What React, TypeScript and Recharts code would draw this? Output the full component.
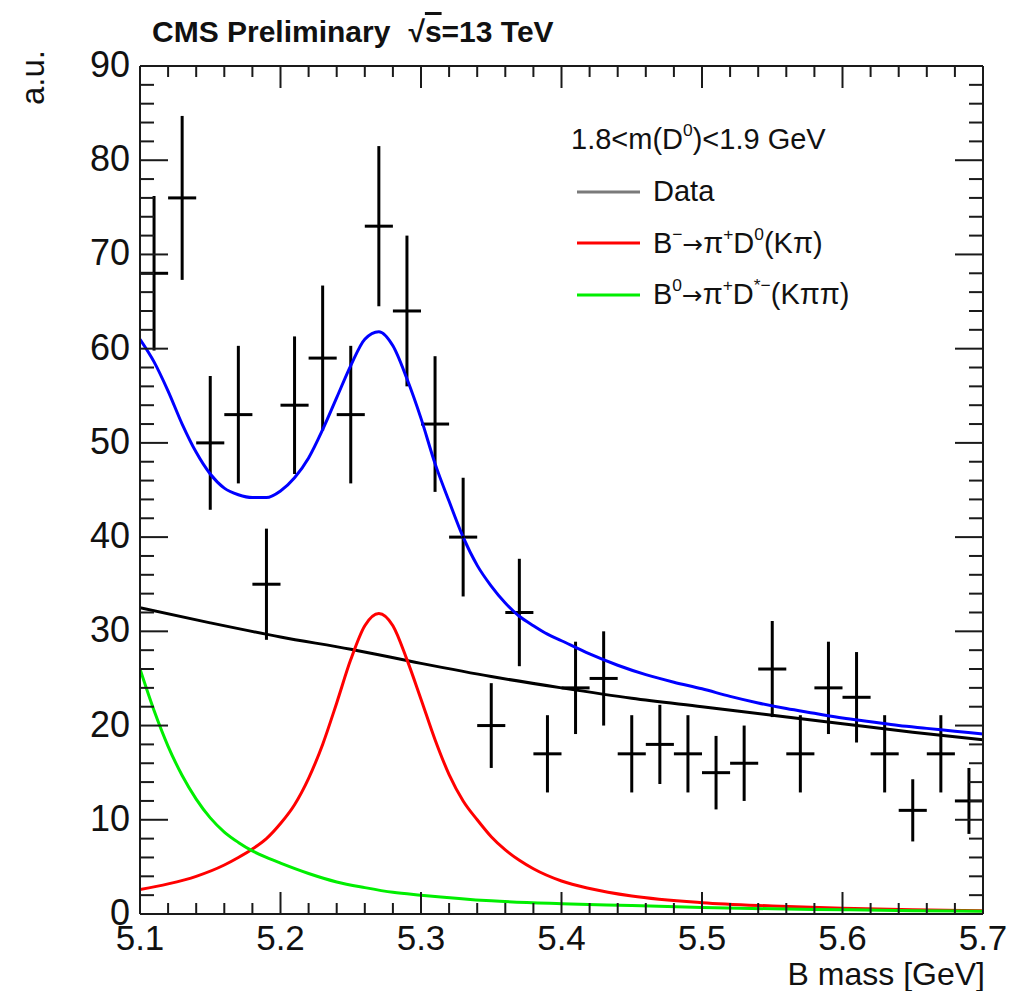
import React from 'react';
import { ComposedChart, Line, Scatter, ErrorBar, XAxis, YAxis, Legend } from 'recharts';

const W = 1012;
const H = 991;
const FONT = '"Liberation Sans", Arial, Helvetica, sans-serif';
const INK = '#1a1a1a';

// axis ticks
const X_MAJOR = [5.1, 5.2, 5.3, 5.4, 5.5, 5.6, 5.7];
const X_LABELS = ['5.1', '5.2', '5.3', '5.4', '5.5', '5.6', '5.7'];
const Y_MAJOR = [0, 10, 20, 30, 40, 50, 60, 70, 80, 90];
const Y_LABELS = ['0', '10', '20', '30', '40', '50', '60', '70', '80', '90'];

const xTicks: number[] = [];
for (let i = 0; i <= 30; i++) xTicks.push(Math.round((5.1 + i * 0.02) * 100) / 100);
const yTicks: number[] = [];
for (let v = 0; v <= 90; v += 2) yTicks.push(v);

// data histogram (bin centres, counts, vertical errors)
const binCenters = [
  5.11, 5.13, 5.15, 5.17, 5.19, 5.21, 5.23, 5.25, 5.27, 5.29,
  5.31, 5.33, 5.35, 5.37, 5.39, 5.41, 5.43, 5.45, 5.47, 5.49,
  5.51, 5.53, 5.55, 5.57, 5.59, 5.61, 5.63, 5.65, 5.67, 5.69,
];
const counts = [
  68, 76, 50, 53, 35, 54, 59, 53, 73, 64,
  52, 40, 20, 32, 17, 24, 25, 17, 18, 17,
  15, 16, 26, 17, 24, 23, 17, 11, 17, 12,
];
const countErrors = [
  8.2, 8.7, 7.1, 7.3, 5.9, 7.3, 7.7, 7.3, 8.5, 8.0,
  7.2, 6.3, 4.5, 5.7, 4.1, 4.9, 5.0, 4.1, 4.2, 4.1,
  3.9, 4.0, 5.1, 4.1, 4.9, 4.8, 4.1, 3.3, 4.1, 3.5,
];
const binHalfWidth = 0.01;

// total fit (blue)
const totalX = [
  5.1, 5.11, 5.12, 5.13, 5.14, 5.15, 5.16, 5.17, 5.18, 5.19,
  5.2, 5.21, 5.22, 5.23, 5.24, 5.25, 5.26, 5.27, 5.28, 5.29,
  5.3, 5.31, 5.32, 5.33, 5.34, 5.35, 5.36, 5.37, 5.38, 5.39,
  5.4, 5.42, 5.44, 5.46, 5.48, 5.5, 5.52, 5.54, 5.56, 5.58,
  5.6, 5.62, 5.64, 5.66, 5.68, 5.7,
];
const totalY = [
  61.0, 58.6, 55.5, 52.0, 49.0, 46.7, 45.2, 44.5, 44.2, 44.2,
  44.9, 46.3, 48.4, 51.4, 54.8, 58.2, 61.0, 61.8, 60.3, 56.8,
  52.6, 47.8, 43.8, 40.0, 37.0, 34.8, 33.0, 31.6, 30.6, 29.7,
  29.0, 27.6, 26.4, 25.4, 24.6, 23.9, 23.1, 22.4, 21.8, 21.3,
  20.8, 20.4, 20.0, 19.7, 19.4, 19.1,
];

// background (black)
const bkgX = [5.1, 5.15, 5.2, 5.25, 5.3, 5.35, 5.4, 5.45, 5.5, 5.55, 5.6, 5.65, 5.7];
const bkgY = [32.5, 30.9, 29.4, 28.1, 26.6, 25.2, 24.0, 22.9, 22.0, 21.1, 20.2, 19.3, 18.5];

// B- -> pi+ D0 (red)
const sigX = [
  5.1, 5.12, 5.14, 5.16, 5.17, 5.18, 5.19, 5.2, 5.21, 5.22,
  5.23, 5.24, 5.25, 5.26, 5.27, 5.28, 5.29, 5.3, 5.31, 5.32,
  5.33, 5.34, 5.35, 5.36, 5.37, 5.38, 5.4, 5.42, 5.45, 5.5,
  5.55, 5.6, 5.65, 5.7,
];
const sigY = [
  2.6, 3.2, 4.0, 5.2, 6.0, 6.9, 8.0, 9.6, 11.6, 14.4,
  18.0, 22.4, 27.0, 30.6, 31.9, 30.6, 27.0, 22.8, 18.5, 14.8,
  12.0, 10.0, 8.2, 6.8, 5.7, 4.8, 3.5, 2.7, 1.9, 1.2,
  0.85, 0.6, 0.45, 0.35,
];

// B0 -> pi+ D*- (green)
const refX = [
  5.1, 5.11, 5.12, 5.13, 5.14, 5.15, 5.16, 5.17, 5.18, 5.19,
  5.2, 5.22, 5.24, 5.26, 5.28, 5.3, 5.35, 5.4, 5.45, 5.5,
  5.55, 5.6, 5.65, 5.7,
];
const refY = [
  26.0, 21.6, 17.8, 14.7, 12.2, 10.2, 8.7, 7.6, 6.7, 6.0,
  5.4, 4.3, 3.4, 2.8, 2.3, 2.0, 1.4, 1.1, 0.9, 0.7,
  0.55, 0.45, 0.35, 0.3,
];

const LEGEND_HEADER = '1.8<m(D^{0})<1.9 GeV';
const LEGEND_NAMES = ['Data', 'B^{−}→π^{+}D^{0}(Kπ)', 'B^{0}→π^{+}D^{*−}(Kππ)'];
const LEGEND_COLORS = ['#7a7a7a', '#ff0000', '#00ee00'];

const points = binCenters.map((x, i) => ({ x, y: counts[i], ey: countErrors[i], ex: binHalfWidth }));
const series = (xs: number[], ys: number[]) => xs.map((x, i) => ({ x, y: ys[i] }));

const majorIndex = (list: number[], v: number) => list.findIndex((m) => Math.abs(m - v) < 1e-6);

const BottomTick = (props: any) => {
  const { x, y, payload } = props;
  const i = majorIndex(X_MAJOR, payload.value);
  const len = i >= 0 ? 22 : 11;
  return (
    <g>
      <line x1={x} x2={x} y1={y} y2={y - len} stroke={INK} strokeWidth={2} />
      {i >= 0 && (
        <text x={x} y={y + 36} textAnchor="middle" fontSize={35} fill="#111" fontFamily={FONT}>
          {X_LABELS[i]}
        </text>
      )}
    </g>
  );
};

const TopTick = (props: any) => {
  const { x, y, payload } = props;
  const len = majorIndex(X_MAJOR, payload.value) >= 0 ? 22 : 11;
  return <line x1={x} x2={x} y1={y} y2={y + len} stroke={INK} strokeWidth={2} />;
};

const LeftTick = (props: any) => {
  const { x, y, payload } = props;
  const i = majorIndex(Y_MAJOR, payload.value);
  const len = i >= 0 ? 28 : 14;
  return (
    <g>
      <line x1={x} x2={x + len} y1={y} y2={y} stroke={INK} strokeWidth={2} />
      {i >= 0 && (
        <text x={x - 10} y={y - 2} dy="0.36em" textAnchor="end" fontSize={36} fill="#111" fontFamily={FONT}>
          {Y_LABELS[i]}
        </text>
      )}
    </g>
  );
};

const RightTick = (props: any) => {
  const { x, y, payload } = props;
  const len = majorIndex(Y_MAJOR, payload.value) >= 0 ? 28 : 14;
  return <line x1={x} x2={x - len} y1={y} y2={y} stroke={INK} strokeWidth={2} />;
};

// turns "D^{0}" into D<sup>0</sup>, arrows get a font that draws them full size
const richText = (s: string) => (
  <span>
    {s.split(/(\^\{[^}]*\}|→)/).map((part, i) => {
      if (part.startsWith('^{'))
        return (
          <sup key={i} style={{ fontSize: '0.6em', verticalAlign: '0.75em', lineHeight: 0 }}>
            {part.slice(2, -1)}
          </sup>
        );
      if (part === '→')
        return (
          <span key={i} style={{ fontFamily: '"DejaVu Sans", sans-serif', fontSize: '0.85em' }}>
            {part}
          </span>
        );
      return <span key={i}>{part}</span>;
    })}
  </span>
);

const ROW = 51.7;

const LegendBox = () => (
  <div style={{ fontFamily: FONT, fontSize: 29, color: '#111', whiteSpace: 'nowrap' }}>
    <div style={{ height: ROW, display: 'flex', alignItems: 'center' }}>{richText(LEGEND_HEADER)}</div>
    {LEGEND_NAMES.map((name, i) => (
      <div key={name} style={{ height: ROW, display: 'flex', alignItems: 'center' }}>
        <svg width={76} height={6} style={{ flex: 'none' }}>
          <line x1={6} x2={69} y1={3} y2={3} stroke={LEGEND_COLORS[i]} strokeWidth={3} />
        </svg>
        <span style={{ marginLeft: 6 }}>{richText(name)}</span>
      </div>
    ))}
  </div>
);

const axisLine = { stroke: INK, strokeWidth: 2 };

export default function App() {
  return (
    <div style={{ position: 'absolute', left: 0, top: 0, width: W, height: H, background: '#fff' }}>
      <ComposedChart width={W} height={H} margin={{ top: 65, right: 28, bottom: 76, left: 139 }}>
        <XAxis
          dataKey="x"
          type="number"
          domain={[5.1, 5.7]}
          allowDataOverflow
          ticks={xTicks}
          interval={0}
          height={1}
          tickSize={0}
          tickMargin={0}
          tickLine={false}
          axisLine={axisLine}
          tick={BottomTick}
        />
        <XAxis
          xAxisId="top"
          orientation="top"
          dataKey="x"
          type="number"
          domain={[5.1, 5.7]}
          allowDataOverflow
          ticks={xTicks}
          interval={0}
          height={1}
          tickSize={0}
          tickMargin={0}
          tickLine={false}
          axisLine={axisLine}
          tick={TopTick}
        />
        <YAxis
          type="number"
          domain={[0, 90]}
          allowDataOverflow
          ticks={yTicks}
          interval={0}
          width={1}
          tickSize={0}
          tickMargin={0}
          tickLine={false}
          axisLine={axisLine}
          tick={LeftTick}
        />
        <YAxis
          yAxisId="right"
          orientation="right"
          type="number"
          domain={[0, 90]}
          allowDataOverflow
          ticks={yTicks}
          interval={0}
          width={1}
          tickSize={0}
          tickMargin={0}
          tickLine={false}
          axisLine={axisLine}
          tick={RightTick}
        />
        <Scatter
          data={points}
          dataKey="y"
          isAnimationActive={false}
          shape={(p: any) => <circle cx={p.cx} cy={p.cy} r={1.5} fill="#000" />}
        >
          <ErrorBar dataKey="ey" direction="y" width={0} stroke="#000" strokeWidth={3} isAnimationActive={false} />
          <ErrorBar dataKey="ex" direction="x" width={0} stroke="#000" strokeWidth={3} isAnimationActive={false} />
        </Scatter>
        <Line data={series(bkgX, bkgY)} dataKey="y" type="monotone" stroke="#000" strokeWidth={3} dot={false} isAnimationActive={false} />
        <Line data={series(sigX, sigY)} dataKey="y" type="monotone" stroke="#ff0000" strokeWidth={3} dot={false} isAnimationActive={false} />
        <Line data={series(refX, refY)} dataKey="y" type="monotone" stroke="#00ee00" strokeWidth={3} dot={false} isAnimationActive={false} />
        <Line data={series(totalX, totalY)} dataKey="y" type="monotone" stroke="#0000ff" strokeWidth={3} dot={false} isAnimationActive={false} />
        <Legend
          layout="vertical"
          align="center"
          verticalAlign="middle"
          wrapperStyle={{ left: 571, top: 114, width: 'auto' }}
          content={() => <LegendBox />}
        />
      </ComposedChart>
      <svg
        width={W}
        height={H}
        style={{ position: 'absolute', left: 0, top: 0, pointerEvents: 'none' }}
        fontFamily={FONT}
      >
        <text x={152} y={42} fontSize={30} fontWeight="bold" fill="#111">
          CMS Preliminary
          <tspan dx={18}>√</tspan>
          <tspan style={{ textDecoration: 'overline' }}>s</tspan>
          <tspan>=13 TeV</tspan>
        </text>
        <text transform="translate(44,50) rotate(-90)" textAnchor="end" fontSize={33} fill="#111">
          a.u.
        </text>
        <text x={985} y={985} textAnchor="end" fontSize={32} fill="#111">
          B mass [GeV]
        </text>
      </svg>
    </div>
  );
}
